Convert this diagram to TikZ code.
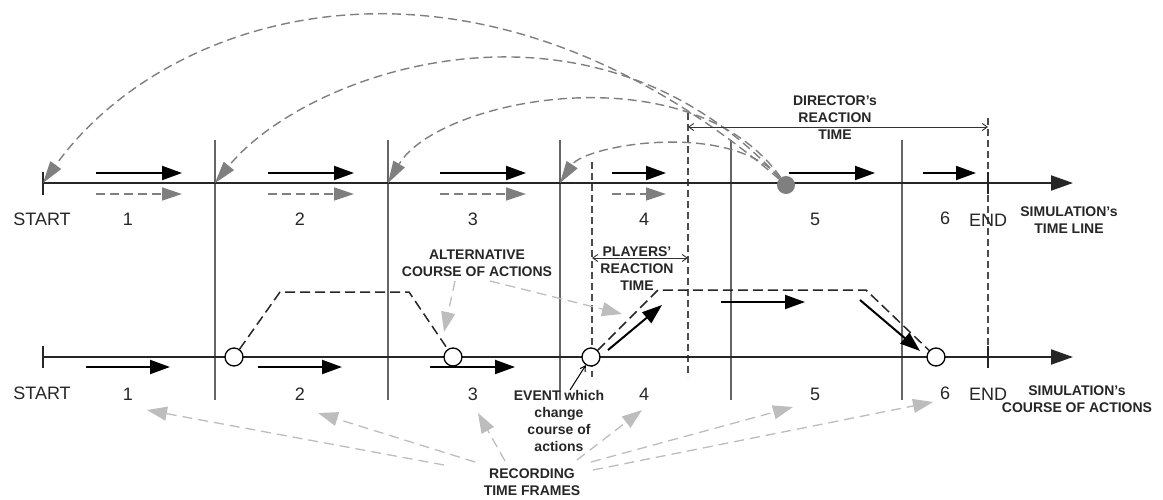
\documentclass[tikz,border=0pt]{standalone}
\usepackage{fontspec}
\setmainfont{Liberation Sans}
\usetikzlibrary{arrows.meta}
\definecolor{dgray}{HTML}{7F7F7F}
\definecolor{lgray}{HTML}{BDBDBD}
\begin{document}
\begin{tikzpicture}[x=1pt,y=-1pt,
  tl/.style={line width=2pt, draw=black!85, -{Triangle[length=22pt,width=15pt]}},
  tick/.style={line width=1.4pt, draw=black!85},
  sep/.style={line width=1.1pt, draw=black!60},
  dsep/.style={line width=1.1pt, draw=black!70, dash pattern=on 7pt off 4pt},
  sarrow/.style={line width=2pt, draw=black, -{Triangle[length=20pt,width=14pt]}},
  garrow/.style={line width=1.6pt, draw=dgray, dash pattern=on 9pt off 5pt, -{Triangle[length=20pt,width=13pt,fill=dgray]}},
  carrow/.style={line width=1.4pt, draw=dgray, dash pattern=on 9pt off 5pt, -{Triangle[length=22pt,width=13pt,fill=dgray]}},
  larrow/.style={line width=1.3pt, draw=lgray, dash pattern=on 10pt off 6pt, -{Triangle[length=20pt,width=14pt,fill=lgray]}},
  alt/.style={line width=1.5pt, draw=black!85, dash pattern=on 10pt off 5pt},
  dim/.style={line width=0.9pt, draw=black!80, {Straight Barb[length=5pt,width=7pt]}-{Straight Barb[length=5pt,width=7pt]}},
  ev/.style={circle, draw=black, line width=1.3pt, fill=white, minimum size=18pt, inner sep=0pt},
  lab/.style={font=\fontsize{18}{20}\selectfont, inner sep=0pt, text=black!85},
  blab/.style={font=\fontsize{14}{17}\selectfont\bfseries, align=center, inner sep=0pt, text=black!85}
]
\useasboundingbox (0,0) rectangle (1163,499);

% ---------- coordinates ----------
\coordinate (ts) at (43,183);
\coordinate (te) at (1073,183);
\coordinate (bs) at (43,357);
\coordinate (be) at (1073,357);
\foreach \x/\n in {215/1,388/2,560/3,731/4,902/5}{
  \coordinate (vt\n) at (\x,140);
  \coordinate (vb\n) at (\x,400);
  \coordinate (tx\n) at (\x,183);
}

% ---------- separators ----------
\foreach \n in {1,...,5}{ \draw[sep] (vt\n) -- (vb\n); }
\coordinate (d1t) at (592,162); \coordinate (d1b) at (592,377);
\coordinate (d2t) at (688,113); \coordinate (d2b) at (688,377);
\coordinate (d3t) at (988,118); \coordinate (d3b) at (988,368);
\draw[dsep] (d1t) -- (d1b);
\draw[dsep] (d2t) -- (d2b);
\draw[dsep] (d3t) -- (d3b);

% ---------- time lines ----------
\draw[tl] (ts) -- (te);
\draw[tl] (bs) -- (be);
\draw[tick] (43,172) -- (43,195);
\draw[tick] (43,346) -- (43,368);
\draw[tick] (988,172) -- (988,194);
\draw[tick] (988,346) -- (988,368);

% ---------- top arrows ----------
\foreach \a/\b in {96/182,268/354,440/526,612/666,789/875,923/976}{
  \coordinate (sa) at (\a,173); \coordinate (sb) at (\b,173);
  \draw[sarrow] (sa) -- (sb);
}
\foreach \a/\b in {96/182,268/354,440/526,612/666}{
  \coordinate (ga) at (\a,194); \coordinate (gb) at (\b,194);
  \draw[garrow] (ga) -- (gb);
}

% ---------- director's curves ----------
\node[circle, fill=dgray, minimum size=18pt, inner sep=0pt] (dot) at (786,185) {};
\draw[carrow] (dot) .. controls (470,-86) and (165,12) .. (ts);
\draw[carrow] (dot) .. controls (590,-28) and (306,71) .. (tx1);
\draw[carrow] (dot) .. controls (690,50) and (438,98) .. (tx2);
\draw[carrow] (dot) .. controls (730,120) and (585,145) .. (tx3);

% director's reaction time
\coordinate (dra) at (688,127); \coordinate (drb) at (988,127);
\draw[dim] (dra) -- (drb);
\node[blab] (dirlab) at (835,118) {DIRECTOR’s\\REACTION\\TIME};

% top labels
\node[lab] (tSTART) at (42,219) {START};
\node[lab] (t1) at (128,219) {1};
\node[lab] (t2) at (300,219) {2};
\node[lab] (t3) at (473,219) {3};
\node[lab] (t4) at (644,219) {4};
\node[lab] (t5) at (815,219) {5};
\node[lab] (t6) at (945,218) {6};
\node[lab] (tEND) at (988,220) {END};
\node[blab] (simtl) at (1069,220.5) {SIMULATION’s\\TIME LINE};

% ---------- bottom: alternative courses ----------
\node[ev] (c1) at (234,357) {};
\node[ev] (c2) at (453,357) {};
\node[ev] (c3) at (591,357) {};
\node[ev] (c4) at (936,357) {};
\coordinate (p1) at (280,292); \coordinate (p2) at (409,292);
\coordinate (q1) at (658,290); \coordinate (q2) at (866,290);
\draw[alt] (c1) -- (p1) -- (p2) -- (c2);
\draw[alt] (c3) -- (q1) -- (q2) -- (c4);

% bottom arrows
\foreach \a/\b in {86/170,258/342,430/515}{
  \coordinate (sa) at (\a,367); \coordinate (sb) at (\b,367);
  \draw[sarrow] (sa) -- (sb);
}
\coordinate (u1) at (608,350); \coordinate (u2) at (662,305);
\draw[sarrow] (u1) -- (u2);
\coordinate (h1) at (721,302); \coordinate (h2) at (805,302);
\draw[sarrow] (h1) -- (h2);
\coordinate (w1) at (860,300); \coordinate (w2) at (920,351);
\draw[sarrow] (w1) -- (w2);

% players' reaction time
\coordinate (pra) at (592,258); \coordinate (prb) at (688,258);
\draw[dim] (pra) -- (prb);
\node[blab] (plab) at (637,269) {PLAYERS’\\REACTION\\TIME};

% alternative label
\node[blab] (altlab) at (477,263.5) {ALTERNATIVE\\COURSE OF ACTIONS};
\coordinate (al1) at (455,281); \coordinate (al2) at (444,332);
\draw[larrow] (al1) -- (al2);
\coordinate (al3) at (490,281); \coordinate (al4) at (622,314);
\draw[larrow] (al3) -- (al4);

% event label
\node[blab] (evlab) at (559,421) {EVENT which\\change\\course of\\actions};
\coordinate (ev1) at (570,390);
\draw[line width=1pt, -{Straight Barb[length=5pt,width=6pt]}] (ev1) -- (c3);

% bottom labels
\node[lab] (bSTART) at (42,393) {START};
\node[lab] (b1) at (128,394) {1};
\node[lab] (b2) at (300,394) {2};
\node[lab] (b3) at (473,394) {3};
\node[lab] (b4) at (644,394) {4};
\node[lab] (b5) at (815,394) {5};
\node[lab] (b6) at (945,393) {6};
\node[lab] (bEND) at (988,394) {END};
\node[blab] (simca) at (1077,399) {SIMULATION’s\\COURSE OF ACTIONS};

% recording time frames
\node[blab] (rec) at (532,482.5) {RECORDING\\TIME FRAMES};
\coordinate (r1s) at (444,465); \coordinate (r1e) at (147,410);
\coordinate (r2s) at (475,462); \coordinate (r2e) at (318,413);
\coordinate (r3s) at (505,461); \coordinate (r3e) at (478,413);
\coordinate (r4s) at (577,460); \coordinate (r4e) at (642,410);
\coordinate (r5s) at (591,462); \coordinate (r5e) at (793,407);
\coordinate (r6s) at (593,470); \coordinate (r6e) at (933,402);
\foreach \n in {1,...,6}{ \draw[larrow] (r\n s) -- (r\n e); }
\end{tikzpicture}
\end{document}
